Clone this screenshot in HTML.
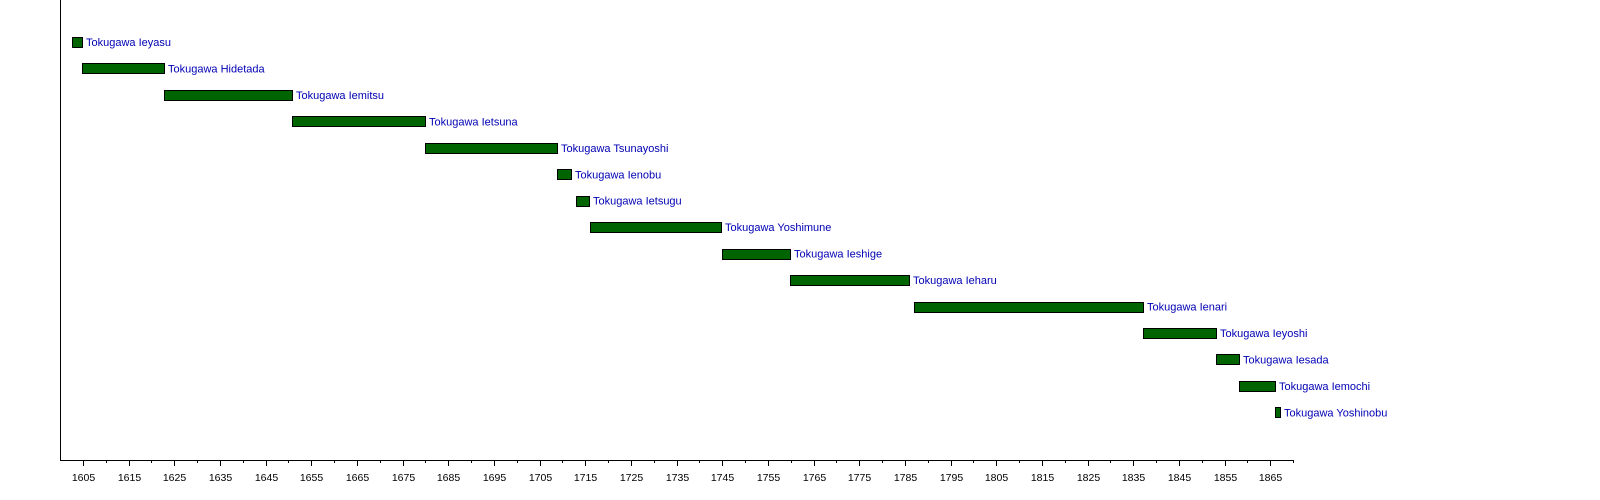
<!DOCTYPE html>
<html><head><meta charset="utf-8"><style>
html,body{margin:0;padding:0;background:#fff;}
svg{display:block;font-family:"Liberation Sans",Arial,sans-serif;}
</style></head><body>
<svg width="1600" height="500" xmlns="http://www.w3.org/2000/svg">
<g id="bars" fill="#006400" stroke="#000" stroke-width="1"></g>
<g id="labels" fill="#0000b4" font-size="11"></g>
<g id="axis" stroke="#000" stroke-width="1"></g>
<g id="ticklabels" fill="#000" font-size="10.5" text-anchor="middle"></g>
<script>
var x0=60,s=1233/270;function X(y){return x0+(y-1600)*s;}
var d=[["Ieyasu",72,82],["Hidetada",82,164],["Iemitsu",164,292],["Ietsuna",292,425],["Tsunayoshi",425,557],["Ienobu",557,571],["Ietsugu",576,589],["Yoshimune",590,721],["Ieshige",722,790],["Ieharu",790,909],["Ienari",914,1143],["Ieyoshi",1143,1216],["Iesada",1216,1239],["Iemochi",1239,1275],["Yoshinobu",1275,1280]];
var ns="http://www.w3.org/2000/svg",b=document.getElementById("bars"),l=document.getElementById("labels");
d.forEach(function(r,i){var cy=42+i*26.45;var e=document.createElementNS(ns,"rect");e.setAttribute("x",r[1]+.5);e.setAttribute("y",Math.round(cy-5)+.5);e.setAttribute("width",r[2]-r[1]);e.setAttribute("height",10);b.appendChild(e);
var t=document.createElementNS(ns,"text");t.setAttribute("x",r[2]+4);t.setAttribute("y",cy+4);t.textContent="Tokugawa "+r[0];l.appendChild(t);});
var a=document.getElementById("axis"),tl=document.getElementById("ticklabels");
function line(x1,y1,x2,y2){var e=document.createElementNS(ns,"line");e.setAttribute("x1",x1);e.setAttribute("y1",y1);e.setAttribute("x2",x2);e.setAttribute("y2",y2);a.appendChild(e);}
line(60.5,0,60.5,460.5);line(60,460.5,1294,460.5);
for(var y=1605;y<=1870;y+=5){var x=Math.round(X(y))+.5;var major=((y-1605)%10==0);line(x,460,x,major?466:463);
if(major){var t=document.createElementNS(ns,"text");t.setAttribute("x",x);t.setAttribute("y",481);t.textContent=y;tl.appendChild(t);}}
</script>
</svg>
</body></html>
